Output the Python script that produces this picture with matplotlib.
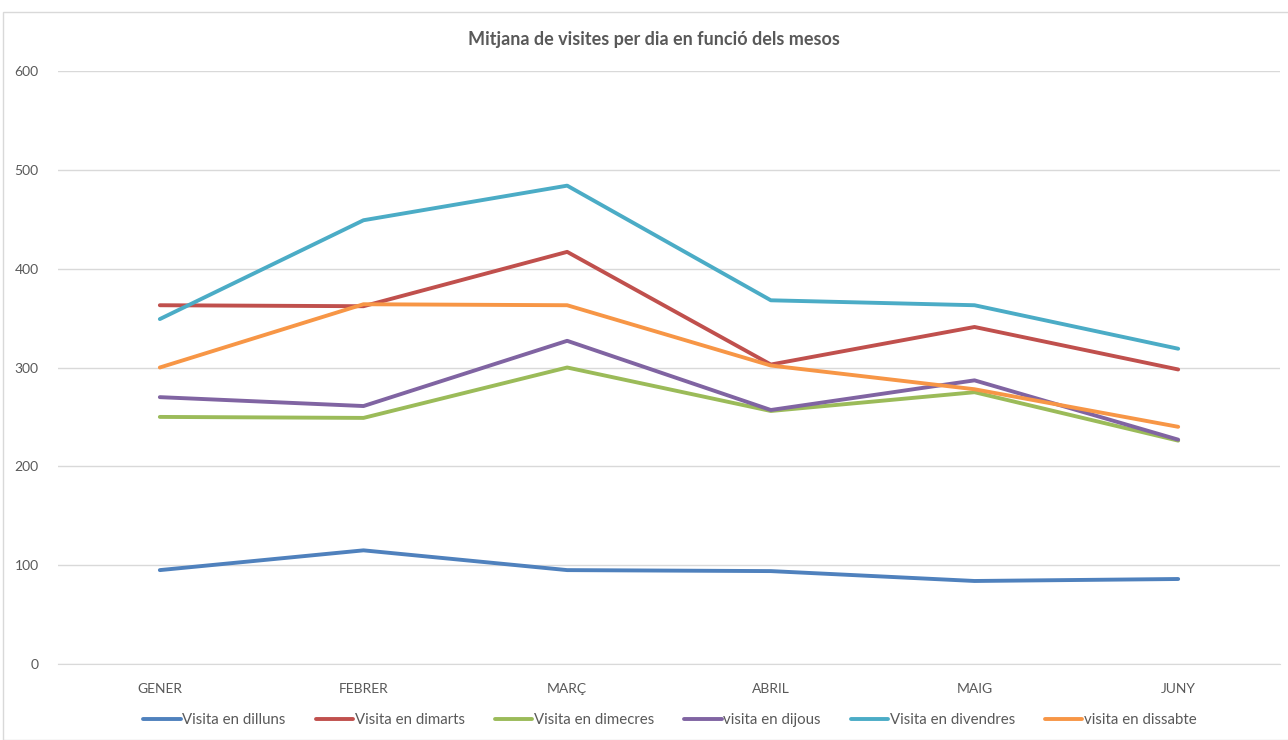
import matplotlib
matplotlib.use("Agg")
import matplotlib.pyplot as plt
from matplotlib.patches import Rectangle

months = ["GENER", "FEBRER", "MARÇ", "ABRIL", "MAIG", "JUNY"]
series_names = ["Visita en dilluns", "Visita en dimarts", "Visita en dimecres",
                "visita en dijous", "Visita en divendres", "visita en dissabte"]
dilluns = [95, 115, 95, 94, 84, 86]
dimarts = [363, 362, 417, 303, 341, 298]
dimecres = [250, 249, 300, 256, 275, 226]
dijous = [270, 261, 327, 257, 287, 227]
divendres = [349, 449, 484, 368, 363, 319]
dissabte = [300, 364, 363, 302, 278, 240]
yticks = [0, 100, 200, 300, 400, 500, 600]
title = "Mitjana de visites per dia en funció dels mesos"

colors = ["#4F81BD", "#C0504D", "#9BBB59", "#8064A2", "#4BACC6", "#F79646"]
all_series = [dilluns, dimarts, dimecres, dijous, divendres, dissabte]

plt.rcParams['font.family'] = ['Lato', 'DejaVu Sans']
text_color = "#595959"

fig = plt.figure(figsize=(12.88, 7.40), dpi=100)
fig.patches.append(Rectangle((3/1288, 0), 1.0, 1 - 12/740, transform=fig.transFigure,
                             fill=False, edgecolor="#D9D9D9", linewidth=1))

left = 58 / 1288
right = 1280 / 1288
bottom = 1 - 664 / 740
top = 1 - 71 / 740
ax = fig.add_axes([left, bottom, right - left, top - bottom])

x = list(range(len(months)))
for name, vals, c in zip(series_names, all_series, colors):
    ax.plot(x, vals, color=c, linewidth=2.8, label=name, solid_capstyle='round',
            solid_joinstyle='round')

ax.set_xlim(-0.5, len(months) - 0.5)
ax.set_ylim(0, 600)
ax.set_yticks(yticks)
ax.set_yticklabels([str(v) for v in yticks])
ax.set_xticks(x)
ax.set_xticklabels(months)
ax.grid(axis='y', color="#D9D9D9", linewidth=1)
ax.set_axisbelow(True)
for s in ["top", "right", "left"]:
    ax.spines[s].set_visible(False)
ax.spines["bottom"].set_color("#D9D9D9")
ax.tick_params(axis='both', length=0, colors=text_color, labelsize=10)
ax.tick_params(axis='x', pad=14)
ax.tick_params(axis='y', pad=14)

fig.text(654 / 1288, 1 - 39/740, title, ha='center', va='center', fontsize=13,
         fontweight='bold', color=text_color)

leg = fig.legend(loc='center', bbox_to_anchor=(670 / 1288, 1 - 720/740), ncol=6,
                 frameon=False, fontsize=10.8, handlelength=2.5, handletextpad=0.1,
                 columnspacing=2.0)
for t in leg.get_texts():
    t.set_color(text_color)

fig.savefig("out.png", dpi=100)
